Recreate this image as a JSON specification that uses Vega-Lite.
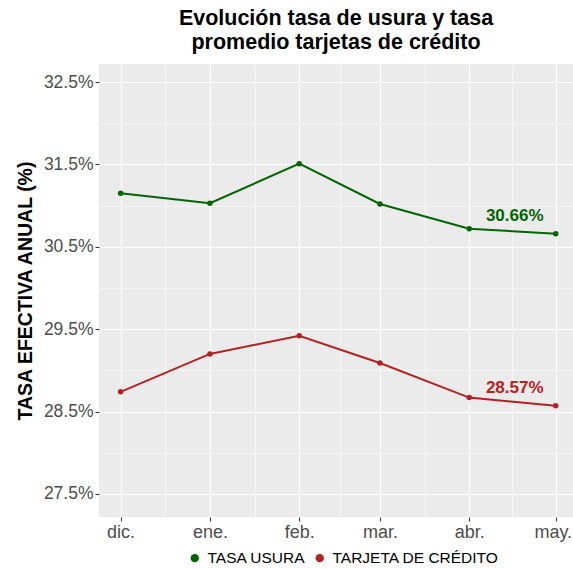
{
  "$schema": "https://vega.github.io/schema/vega-lite/v6.json",
  "width": 474,
  "height": 453,
  "autosize": {"type": "none"},
  "padding": {"left": 99, "top": 64, "right": 0, "bottom": 52},
  "background": "white",
  "title": {
    "text": ["Evolución tasa de usura y tasa", "promedio tarjetas de crédito"],
    "fontSize": 21.5,
    "fontWeight": "bold",
    "font": "Liberation Sans",
    "color": "black",
    "anchor": "middle",
    "lineHeight": 24,
    "offset": 11
  },
  "config": {
    "font": "Liberation Sans",
    "view": {"fill": "#EBEBEB", "stroke": null}
  },
  "data": {
    "values": [
      {"date": "2018-12-01", "serie": "TASA USURA", "value": 31.15},
      {"date": "2019-01-01", "serie": "TASA USURA", "value": 31.03},
      {"date": "2019-02-01", "serie": "TASA USURA", "value": 31.51},
      {"date": "2019-03-01", "serie": "TASA USURA", "value": 31.02},
      {"date": "2019-04-01", "serie": "TASA USURA", "value": 30.72},
      {"date": "2019-05-01", "serie": "TASA USURA", "value": 30.66},
      {"date": "2018-12-01", "serie": "TARJETA DE CRÉDITO", "value": 28.74},
      {"date": "2019-01-01", "serie": "TARJETA DE CRÉDITO", "value": 29.2},
      {"date": "2019-02-01", "serie": "TARJETA DE CRÉDITO", "value": 29.42},
      {"date": "2019-03-01", "serie": "TARJETA DE CRÉDITO", "value": 29.09},
      {"date": "2019-04-01", "serie": "TARJETA DE CRÉDITO", "value": 28.67},
      {"date": "2019-05-01", "serie": "TARJETA DE CRÉDITO", "value": 28.57}
    ]
  },
  "encoding": {
    "x": {
      "field": "date",
      "type": "temporal",
      "scale": {
        "type": "utc",
        "domain": [
          {"year": 2018, "month": 11, "date": 23, "hours": 12, "utc": true},
          {"year": 2019, "month": 5, "date": 7, "utc": true}
        ]
      },
      "axis": {
        "title": null,
        "values": [
          {"year": 2018, "month": 12, "date": 1, "utc": true},
          {"year": 2018, "month": 12, "date": 16, "hours": 12, "utc": true},
          {"year": 2019, "month": 1, "date": 1, "utc": true},
          {"year": 2019, "month": 1, "date": 16, "hours": 12, "utc": true},
          {"year": 2019, "month": 2, "date": 1, "utc": true},
          {"year": 2019, "month": 2, "date": 15, "utc": true},
          {"year": 2019, "month": 3, "date": 1, "utc": true},
          {"year": 2019, "month": 3, "date": 16, "hours": 12, "utc": true},
          {"year": 2019, "month": 4, "date": 1, "utc": true},
          {"year": 2019, "month": 4, "date": 16, "utc": true},
          {"year": 2019, "month": 5, "date": 1, "utc": true}
        ],
        "labelExpr": "utcdate(datum.value) == 1 && utchours(datum.value) == 0 ? ['ene.','feb.','mar.','abr.','may.','jun.','jul.','ago.','sep.','oct.','nov.','dic.'][utcmonth(datum.value)] : ''",
        "labelFontSize": 18,
        "labelColor": "#4D4D4D",
        "labelPadding": 2,
        "labelOffset": {"condition": {"test": "utcmonth(datum.value) == 4", "value": -3}, "value": 0},
        "labelFlush": false,
        "labelOverlap": false,
        "labelBound": false,
        "domain": false,
        "tickSize": 4,
        "tickColor": {"condition": {"test": "utcdate(datum.value) == 1 && utchours(datum.value) == 0", "value": "#333333"}, "value": "transparent"},
        "grid": true,
        "gridColor": "white",
        "gridOpacity": 1,
        "gridWidth": {"condition": {"test": "utcdate(datum.value) == 1 && utchours(datum.value) == 0", "value": 1.1}, "value": 0.55}
      }
    },
    "y": {
      "field": "value",
      "type": "quantitative",
      "scale": {"domain": [27.22, 32.72], "nice": false, "zero": false},
      "axis": {
        "title": "TASA EFECTIVA ANUAL (%)",
        "titleFontSize": 19.5,
        "titleFontWeight": "bold",
        "titleColor": "black",
        "titlePadding": 8,
        "values": [27.5, 28, 28.5, 29, 29.5, 30, 30.5, 31, 31.5, 32, 32.5],
        "labelExpr": "round(datum.value*10) % 10 == 5 ? format(datum.value, '.1f') + '%' : ''",
        "labelFontSize": 17.5,
        "labelColor": "#4D4D4D",
        "labelPadding": 2,
        "labelOverlap": false,
        "domain": false,
        "tickSize": 4,
        "tickColor": {"condition": {"test": "round(datum.value*10) % 10 == 5", "value": "#333333"}, "value": "transparent"},
        "grid": true,
        "gridColor": "white",
        "gridOpacity": 1,
        "gridWidth": {"condition": {"test": "round(datum.value*10) % 10 == 5", "value": 1.1}, "value": 0.55}
      }
    },
    "color": {
      "field": "serie",
      "type": "nominal",
      "scale": {"domain": ["TASA USURA", "TARJETA DE CRÉDITO"], "range": ["#006400", "#B22222"]},
      "legend": {
        "title": null,
        "orient": "none",
        "legendX": 88,
        "legendY": 486,
        "direction": "horizontal",
        "labelFontSize": 15.5,
        "labelColor": "black",
        "labelLimit": 400,
        "symbolType": "circle",
        "symbolSize": 70,
        "symbolStrokeWidth": 0,
        "columnPadding": 6,
        "labelOffset": 5
      }
    }
  },
  "layer": [
    {"mark": {"type": "line", "strokeWidth": 2}},
    {"mark": {"type": "point", "filled": true, "size": 30, "opacity": 1}},
    {
      "transform": [
        {"filter": "utcmonth(datum.date) == 4"},
        {"calculate": "format(datum.value, '.2f') + '%'", "as": "label"}
      ],
      "mark": {"type": "text", "fontSize": 17, "fontWeight": "bold", "dx": -41, "dy": -18},
      "encoding": {"text": {"field": "label"}}
    }
  ]
}
